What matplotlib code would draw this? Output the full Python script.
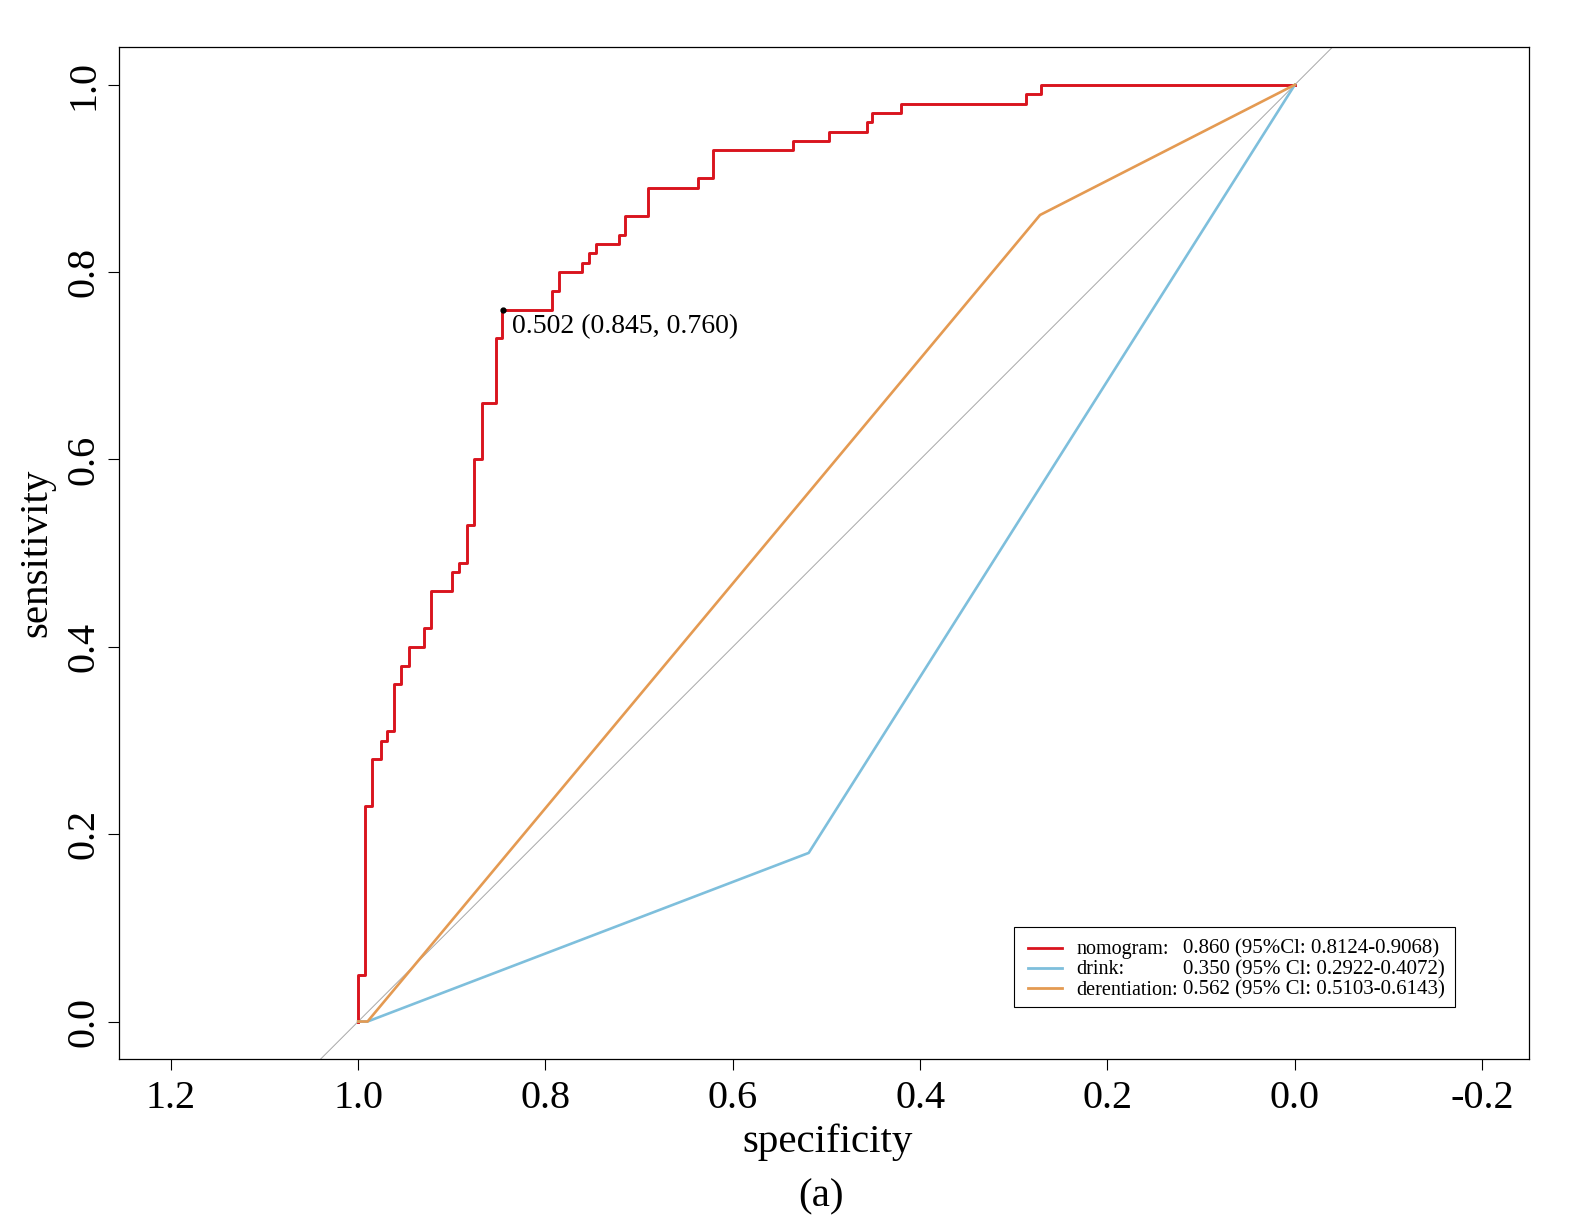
import matplotlib
matplotlib.use("Agg")
import matplotlib.pyplot as plt
from matplotlib.patches import Rectangle

plt.rcParams['font.family'] = ['Liberation Serif', 'DejaVu Serif']
plt.rcParams['axes.unicode_minus'] = False

# ---- data ----
nomo_spec = [1.000, 1.000, 0.993, 0.985, 0.976, 0.969, 0.962, 0.954, 0.946, 0.930,
             0.922, 0.900, 0.892, 0.884, 0.876, 0.868, 0.853, 0.846, 0.793, 0.786,
             0.761, 0.754, 0.746, 0.722, 0.715, 0.691, 0.637, 0.621, 0.536, 0.497,
             0.457, 0.451, 0.420, 0.287, 0.271, 0.000]
nomo_sens = [0.00, 0.05, 0.23, 0.28, 0.30, 0.31, 0.36, 0.38, 0.40, 0.42,
             0.46, 0.48, 0.49, 0.53, 0.60, 0.66, 0.73, 0.76, 0.78, 0.80,
             0.81, 0.82, 0.83, 0.84, 0.86, 0.89, 0.90, 0.93, 0.94, 0.95,
             0.96, 0.97, 0.98, 0.99, 1.00, 1.00]
drink_spec = [1.000, 0.990, 0.519, 0.000]
drink_sens = [0.000, 0.000, 0.180, 1.000]
deren_spec = [1.000, 0.990, 0.272, 0.000]
deren_sens = [0.000, 0.000, 0.861, 1.000]

best_thr, best_spec, best_sens = 0.502, 0.845, 0.760

series_names = ["nomogram:", "drink:", "derentiation:"]
series_values = ["0.860 (95%Cl: 0.8124-0.9068)",
                 "0.350 (95% Cl: 0.2922-0.4072)",
                 "0.562 (95% Cl: 0.5103-0.6143)"]
colors = ["#D9141E", "#7EBFDC", "#E49A52"]

x_ticks = [1.2, 1.0, 0.8, 0.6, 0.4, 0.2, 0.0, -0.2]
y_ticks = [0.0, 0.2, 0.4, 0.6, 0.8, 1.0]

# ---- figure ----
W, H = 1582, 1215
fig = plt.figure(figsize=(W / 100, H / 100), dpi=100)
L, R, T, B = 119.3, 1529, 47.3, 1059
ax = fig.add_axes([L / W, 1 - B / H, (R - L) / W, (B - T) / H])

ax.set_xlim(1.255, -0.25)
ax.set_ylim(-0.04, 1.04)

ax.axline((1, 0), (0, 1), color="#A8A8A8", lw=0.7, zorder=1)
ax.step(nomo_spec, nomo_sens, where='post', color=colors[0], lw=2.1, zorder=3)
ax.plot(drink_spec, drink_sens, color=colors[1], lw=1.9, zorder=4)
ax.plot(deren_spec, deren_sens, color=colors[2], lw=1.9, zorder=5)

ax.plot([best_spec], [best_sens], 'o', color='black', ms=3.5, zorder=6)
ax.annotate(f"{best_thr:.3f} ({best_spec:.3f}, {best_sens:.3f})",
            xy=(best_spec, best_sens), xytext=(6, -17.3), textcoords='offset points',
            ha='left', va='baseline', fontsize=20, zorder=6)

ax.set_xticks(x_ticks)
ax.set_xticklabels([f"{v:.1f}" for v in x_ticks])
ax.set_yticks(y_ticks)
ax.set_yticklabels([f"{v:.1f}" for v in y_ticks], rotation=90, va='center')
ax.tick_params(axis='both', direction='out', length=7.9, width=0.8, labelsize=29)
ax.tick_params(axis='x', pad=7)
ax.tick_params(axis='y', pad=4.5)
for sp in ax.spines.values():
    sp.set_linewidth(0.9)

fig.text(828 / W, 1 - 1151.7 / H, "specificity", ha='center', va='baseline', fontsize=29.5)
fig.text(46.7 / W, 1 - 553 / H, "sensitivity", ha='center', va='baseline',
         rotation=90, rotation_mode='anchor', fontsize=29.5)
fig.text(820.5 / W, 1 - 1206.7 / H, "(a)", ha='center', va='baseline', fontsize=29.5)

# ---- legend (drawn manually to keep the value column aligned) ----
ax.add_patch(Rectangle((0.6347, 0.0517), 0.9475 - 0.6347, 0.1302 - 0.0517,
                       transform=ax.transAxes, facecolor='white', edgecolor='black',
                       lw=0.8, zorder=7))
rows_y = [0.1102, 0.0899, 0.0697]
for name, val, c, yy in zip(series_names, series_values, colors, rows_y):
    ax.plot([0.6446, 0.6687], [yy, yy], transform=ax.transAxes, color=c, lw=2.0, zorder=8)
    ax.text(0.6790, yy - 0.0015, name, transform=ax.transAxes, ha='left', va='center',
            fontsize=14.5, zorder=8)
    ax.text(0.7545, yy - 0.0015, val, transform=ax.transAxes, ha='left', va='center',
            fontsize=15, zorder=8)

fig.savefig("out.png", dpi=100)
